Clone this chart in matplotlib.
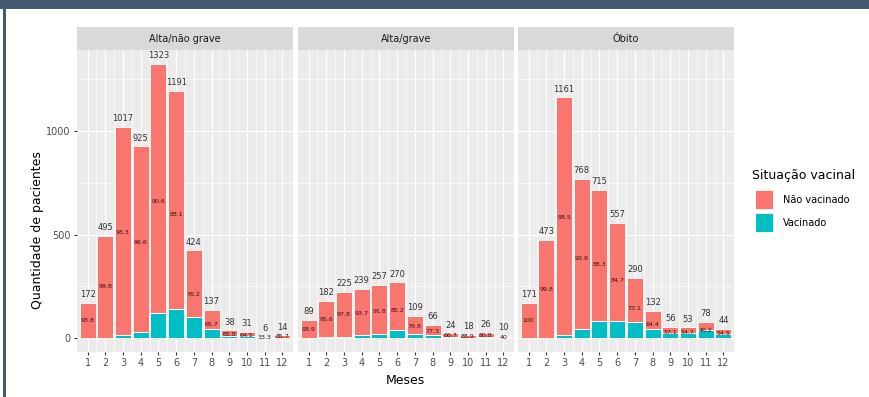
import matplotlib.pyplot as plt
from matplotlib.patches import Rectangle
import numpy as np

meses = list(range(1, 13))
paineis = ['Alta/não grave', 'Alta/grave', 'Óbito']

total_alta_nao_grave = [172, 495, 1017, 925, 1323, 1191, 424, 137, 38, 31, 6, 14]
pct_alta_nao_grave = [98.8, 99.8, 98.3, 96.6, 90.6, 88.1, 76.2, 65.7, 65.8, 64.5, 33.3, 85.7]

total_alta_grave = [89, 182, 225, 239, 257, 270, 109, 66, 24, 18, 26, 10]
pct_alta_grave = [98.9, 95.6, 97.8, 93.7, 91.8, 85.2, 79.8, 77.3, 66.7, 88.9, 80.8, 40]

total_obito = [171, 473, 1161, 768, 715, 557, 290, 132, 56, 53, 78, 44]
pct_obito = [100, 99.8, 98.5, 93.9, 88.3, 84.7, 73.1, 64.4, 57.1, 54.7, 46.2, 54.5]

totais = [total_alta_nao_grave, total_alta_grave, total_obito]
pcts = [pct_alta_nao_grave, pct_alta_grave, pct_obito]

cor_nao = '#F8766D'
cor_vac = '#00BFC4'

W, H = 870, 397
fig = plt.figure(figsize=(W / 100, H / 100), dpi=100)
fig.patch.set_facecolor('white')

# moldura escura
fig.patches.append(Rectangle((0, 1 - 9 / H), 1, 9 / H, transform=fig.transFigure,
                             facecolor='#455A70', edgecolor='none', zorder=0))
fig.patches.append(Rectangle((3 / W, 0), 3 / W, 1 - 9 / H, transform=fig.transFigure,
                             facecolor='#455A70', edgecolor='none', zorder=0))

lefts = [77, 298, 518]
pw = 216
top, bottom = 50, 352
ymax = 1323 * 1.05
ymin = -1323 * 0.05

def px(x, y, w, h):
    return [x / W, 1 - (y + h) / H, w / W, h / H]

for i, nome in enumerate(paineis):
    ax = fig.add_axes(px(lefts[i], top, pw, bottom - top))
    ax.set_facecolor('#EBEBEB')
    tot = np.array(totais[i], dtype=float)
    nao = np.round(tot * np.array(pcts[i]) / 100)
    vac = tot - nao
    ax.bar(meses, vac, width=0.9, color=cor_vac, edgecolor='white', linewidth=0.6, zorder=3)
    ax.bar(meses, nao, bottom=vac, width=0.9, color=cor_nao, edgecolor='white', linewidth=0.6, zorder=3)
    for m, t, p in zip(meses, tot, pcts[i]):
        ax.text(m, t + 18, '%d' % t, ha='center', va='bottom', fontsize=6, color='#333333', zorder=4)
        ax.text(m, t / 2, ('%g' % p), ha='center', va='center', fontsize=4.5, color='#3a1010', zorder=4)
    ax.set_xlim(0.4, 12.6)
    ax.set_ylim(ymin, ymax)
    ax.set_xticks(meses)
    ax.set_xticklabels([str(m) for m in meses])
    ax.set_xticks(np.arange(1.5, 12.5, 1), minor=True)
    ax.set_yticks([0, 500, 1000])
    ax.set_yticks([250, 750, 1250], minor=True)
    ax.grid(True, which='major', color='white', linewidth=0.9, zorder=0)
    ax.grid(True, which='minor', color='white', linewidth=0.45, zorder=0)
    ax.set_axisbelow(True)
    for s in ax.spines.values():
        s.set_visible(False)
    ax.tick_params(axis='both', length=2.5, color='#333333', labelsize=7, labelcolor='#4D4D4D', pad=2)
    ax.tick_params(which='minor', length=0)
    if i == 0:
        ax.set_yticklabels(['0', '500', '1000'])
    else:
        ax.set_yticklabels([])
        ax.tick_params(axis='y', length=0)
    # faixa do painel
    st = fig.add_axes(px(lefts[i], 27, pw, 23))
    st.set_facecolor('#D9D9D9')
    st.set_xticks([])
    st.set_yticks([])
    for s in st.spines.values():
        s.set_visible(False)
    st.text(0.5, 0.5, nome, ha='center', va='center', fontsize=7, color='#1A1A1A', transform=st.transAxes)

fig.text(405 / W, 1 - 381 / H, 'Meses', ha='center', va='center', fontsize=9, color='black')
fig.text(38 / W, 1 - 230 / H, 'Quantidade de pacientes', ha='center', va='center',
         rotation=90, fontsize=9, color='black')

# legenda
fig.text(752 / W, 1 - 176 / H, 'Situação vacinal', ha='left', va='center', fontsize=9, color='black')
fig.patches.append(Rectangle((755 / W, 1 - 209 / H), 18 / W, 19 / H, transform=fig.transFigure,
                             facecolor=cor_nao, edgecolor='white', linewidth=0.6))
fig.patches.append(Rectangle((755 / W, 1 - 232 / H), 18 / W, 19 / H, transform=fig.transFigure,
                             facecolor=cor_vac, edgecolor='white', linewidth=0.6))
fig.text(783 / W, 1 - 200 / H, 'Não vacinado', ha='left', va='center', fontsize=7, color='black')
fig.text(783 / W, 1 - 223 / H, 'Vacinado', ha='left', va='center', fontsize=7, color='black')

fig.savefig('out.png', dpi=100)
